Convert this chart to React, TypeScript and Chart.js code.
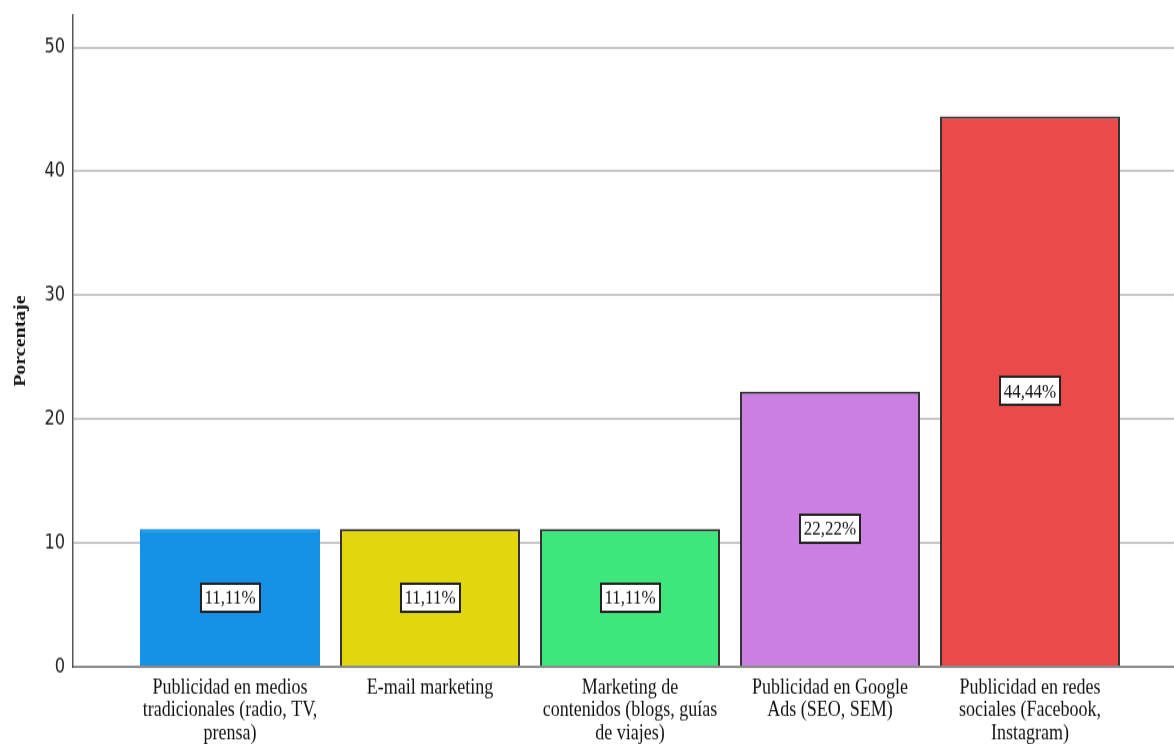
import React, { useEffect, useRef } from "react";
import { Chart, registerables } from "chart.js";

Chart.register(...registerables);

// Category labels, already broken into lines as they are printed under the bars
const categories: string[][] = [
  ["Publicidad en medios", "tradicionales (radio, TV,", "prensa)"],
  ["E-mail marketing"],
  ["Marketing de", "contenidos (blogs, guías", "de viajes)"],
  ["Publicidad en Google", "Ads (SEO, SEM)"],
  ["Publicidad en redes", "sociales (Facebook,", "Instagram)"],
];

const percentages: number[] = [11.11, 11.11, 11.11, 22.22, 44.44];

const barColors: string[] = ["#1591E6", "#E2D60F", "#3EE67B", "#CB7FE3", "#EB4A4B"];
const barBorderColors: string[] = ["#1591E6", "#333333", "#333333", "#333333", "#333333"];

const yTickValues: number[] = [0, 10, 20, 30, 40, 50];

const SERIF = "'Liberation Serif', 'Times New Roman', serif";
const NARROW = "'Liberation Sans Narrow', 'DejaVu Sans Condensed', 'Arial Narrow', sans-serif";

const WIDTH = 1174;
const HEIGHT = 744;
// the drawing is rendered a little shorter and stretched vertically by CSS,
// which gives the tall, narrow lettering of the printed chart
const V_STRETCH = 1.17;
const CANVAS_HEIGHT = Math.round(HEIGHT / V_STRETCH);

const formatPct = (v: number) => v.toFixed(2).replace(".", ",") + "%";

// White boxed percentage label in the middle of each bar
const valueBoxes = {
  id: "valueBoxes",
  afterDatasetsDraw(chart: any) {
    const ctx: CanvasRenderingContext2D = chart.ctx;
    const meta = chart.getDatasetMeta(0);
    ctx.save();
    ctx.font = `17px ${SERIF}`;
    ctx.textAlign = "center";
    ctx.textBaseline = "middle";
    meta.data.forEach((bar: any, i: number) => {
      const { x, y, base } = bar.getProps(["x", "y", "base"], true);
      const text = formatPct(percentages[i]);
      const w = Math.round(ctx.measureText(text).width + 8);
      const h = 24;
      const cy = (y + base) / 2;
      const left = Math.round(x - w / 2);
      const top = Math.round(cy - h / 2);
      ctx.fillStyle = "#ffffff";
      ctx.fillRect(left, top, w, h);
      ctx.lineWidth = 2;
      ctx.strokeStyle = "#222222";
      ctx.strokeRect(left, top, w, h);
      ctx.fillStyle = "#111111";
      ctx.fillText(text, x, cy + 1);
    });
    ctx.restore();
  },
};

export default function App() {
  const canvasRef = useRef<HTMLCanvasElement | null>(null);

  useEffect(() => {
    const canvas = canvasRef.current;
    if (!canvas) return;

    const chart = new Chart(canvas, {
      type: "bar",
      data: {
        datasets: [
          {
            data: percentages.map((v, i) => ({ x: i, y: v })),
            backgroundColor: barColors,
            borderColor: barBorderColors,
            borderWidth: 2,
            barPercentage: 0.9,
            categoryPercentage: 1.0,
          },
        ],
      },
      plugins: [valueBoxes],
      options: {
        responsive: false,
        animation: false,
        devicePixelRatio: 1,
        layout: { padding: { top: 13, right: 0, bottom: 0, left: 0 } },
        plugins: {
          legend: { display: false },
          tooltip: { enabled: false },
        },
        scales: {
          x: {
            type: "linear",
            min: -0.785,
            max: 4.72,
            offset: false,
            grid: { display: false, drawTicks: false },
            border: { display: true, color: "#8c8c8c", width: 2 },
            afterBuildTicks: (scale: any) => {
              scale.ticks = categories.map((_, i) => ({ value: i }));
            },
            afterFit: (scale: any) => {
              scale.height = 66;
            },
            ticks: {
              autoSkip: false,
              maxRotation: 0,
              minRotation: 0,
              padding: 8,
              color: "#111111",
              font: { family: SERIF, size: 18, lineHeight: 1.09 },
              callback: (value: any) => categories[Number(value)] ?? "",
            },
          },
          y: {
            type: "linear",
            min: 0,
            max: 52.6,
            afterBuildTicks: (scale: any) => {
              scale.ticks = yTickValues.map((v) => ({ value: v }));
            },
            afterFit: (scale: any) => {
              scale.width = 73;
              scale.paddingTop = 0;
              scale.paddingBottom = 0;
            },
            grid: { color: "#c8c8c8", lineWidth: 2, drawTicks: false },
            border: { display: true, color: "#555555", width: 1.5 },
            ticks: {
              padding: 8,
              color: "#222222",
              font: { family: NARROW, size: 18 },
              callback: (value: any) => String(value),
            },
            title: {
              display: true,
              text: "Porcentaje",
              color: "#111111",
              font: { family: SERIF, size: 17, weight: "bold" },
              padding: { top: 10, bottom: 0 },
            },
          },
        },
      },
    } as any);

    return () => {
      chart.destroy();
    };
  }, []);

  return (
    <div
      style={{
        position: "absolute",
        left: 0,
        top: 0,
        width: WIDTH,
        height: HEIGHT,
        overflow: "hidden",
        background: "#ffffff",
      }}
    >
      <canvas
        ref={canvasRef}
        width={WIDTH}
        height={CANVAS_HEIGHT}
        style={{ display: "block", width: `${WIDTH}px`, height: `${HEIGHT}px` }}
      />
    </div>
  );
}
